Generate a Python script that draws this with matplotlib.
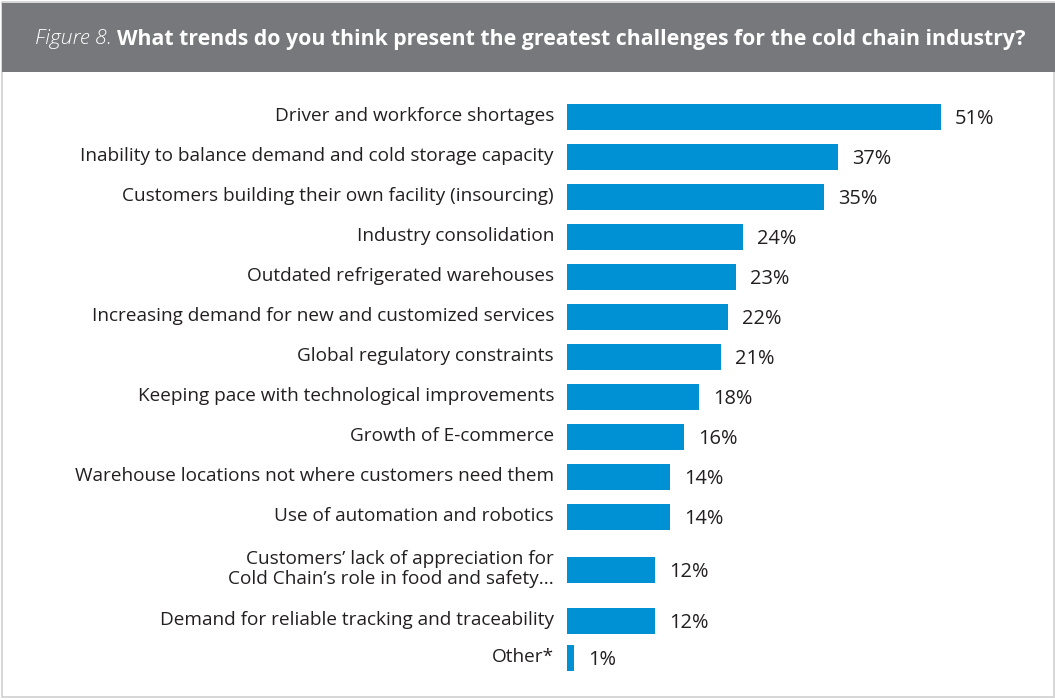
import matplotlib.pyplot as plt
from matplotlib.patches import Rectangle

labels = [
    "Driver and workforce shortages",
    "Inability to balance demand and cold storage capacity",
    "Customers building their own facility (insourcing)",
    "Industry consolidation",
    "Outdated refrigerated warehouses",
    "Increasing demand for new and customized services",
    "Global regulatory constraints",
    "Keeping pace with technological improvements",
    "Growth of E-commerce",
    "Warehouse locations not where customers need them",
    "Use of automation and robotics",
    "Customers\u2019 lack of appreciation for\nCold Chain\u2019s role in food and safety...",
    "Demand for reliable tracking and traceability",
    "Other*",
]
values = [51, 37, 35, 24, 23, 22, 21, 18, 16, 14, 14, 12, 12, 1]

W, H = 1055, 700
BAR_COLOR = "#0090d4"
HEADER = "#77787b"
TEXT = "#231f20"

plt.rcParams["font.family"] = ["Open Sans", "DejaVu Sans"]

fig = plt.figure(figsize=(W / 100, H / 100), dpi=100)

# background frame and header band, in pixel coordinates
bg = fig.add_axes([0, 0, 1, 1])
bg.set_xlim(0, W)
bg.set_ylim(H, 0)
bg.axis("off")
bg.add_patch(Rectangle((2, 2), W - 3, H - 5, facecolor="white",
                       edgecolor="#cfcfcf", lw=1.2))
bg.add_patch(Rectangle((2, 3), W - 2, 69, facecolor=HEADER, edgecolor="none"))
t1 = bg.text(35, 39, "Figure 8. ", color="white", fontsize=15.3,
             fontstyle="italic", fontweight="light", va="center", ha="left")
fig.canvas.draw()
bb = t1.get_window_extent()
x_next = bg.transData.inverted().transform((bb.x1, bb.y0))[0]
bg.text(x_next, 39, "What trends do you think present the greatest challenges for the cold chain industry?",
        color="white", fontsize=15.3, fontweight="bold", va="center", ha="left")

# row centres: extra room for two-line labels
centers = []
y = 117
for i, lab in enumerate(labels):
    two = "\n" in lab
    if i > 0:
        prev_two = "\n" in labels[i - 1]
        y += 40 + (13 if two else 0) + (11 if prev_two else 0)
        if i == len(labels) - 1:
            y -= 3
    centers.append(y)

x0, x1 = 567, 1040
px_per_pct = (941 - 567) / 51
ax = fig.add_axes([x0 / W, 0, (x1 - x0) / W, 1])
ax.set_xlim(0, (x1 - x0) / px_per_pct)
ax.set_ylim(H, 0)
ax.axis("off")

ax.barh(centers, values, height=26, color=BAR_COLOR)
for c, v, lab in zip(centers, values, labels):
    ax.text(v + 14 / px_per_pct, c + 2, f"{v}%", fontsize=14.4, color=TEXT,
            va="center", ha="left")
    ax.text(-13 / px_per_pct, c - 1, lab, fontsize=13.7, color=TEXT,
            va="center", ha="right", linespacing=1.2, clip_on=False)

fig.savefig("out.png", dpi=100)
